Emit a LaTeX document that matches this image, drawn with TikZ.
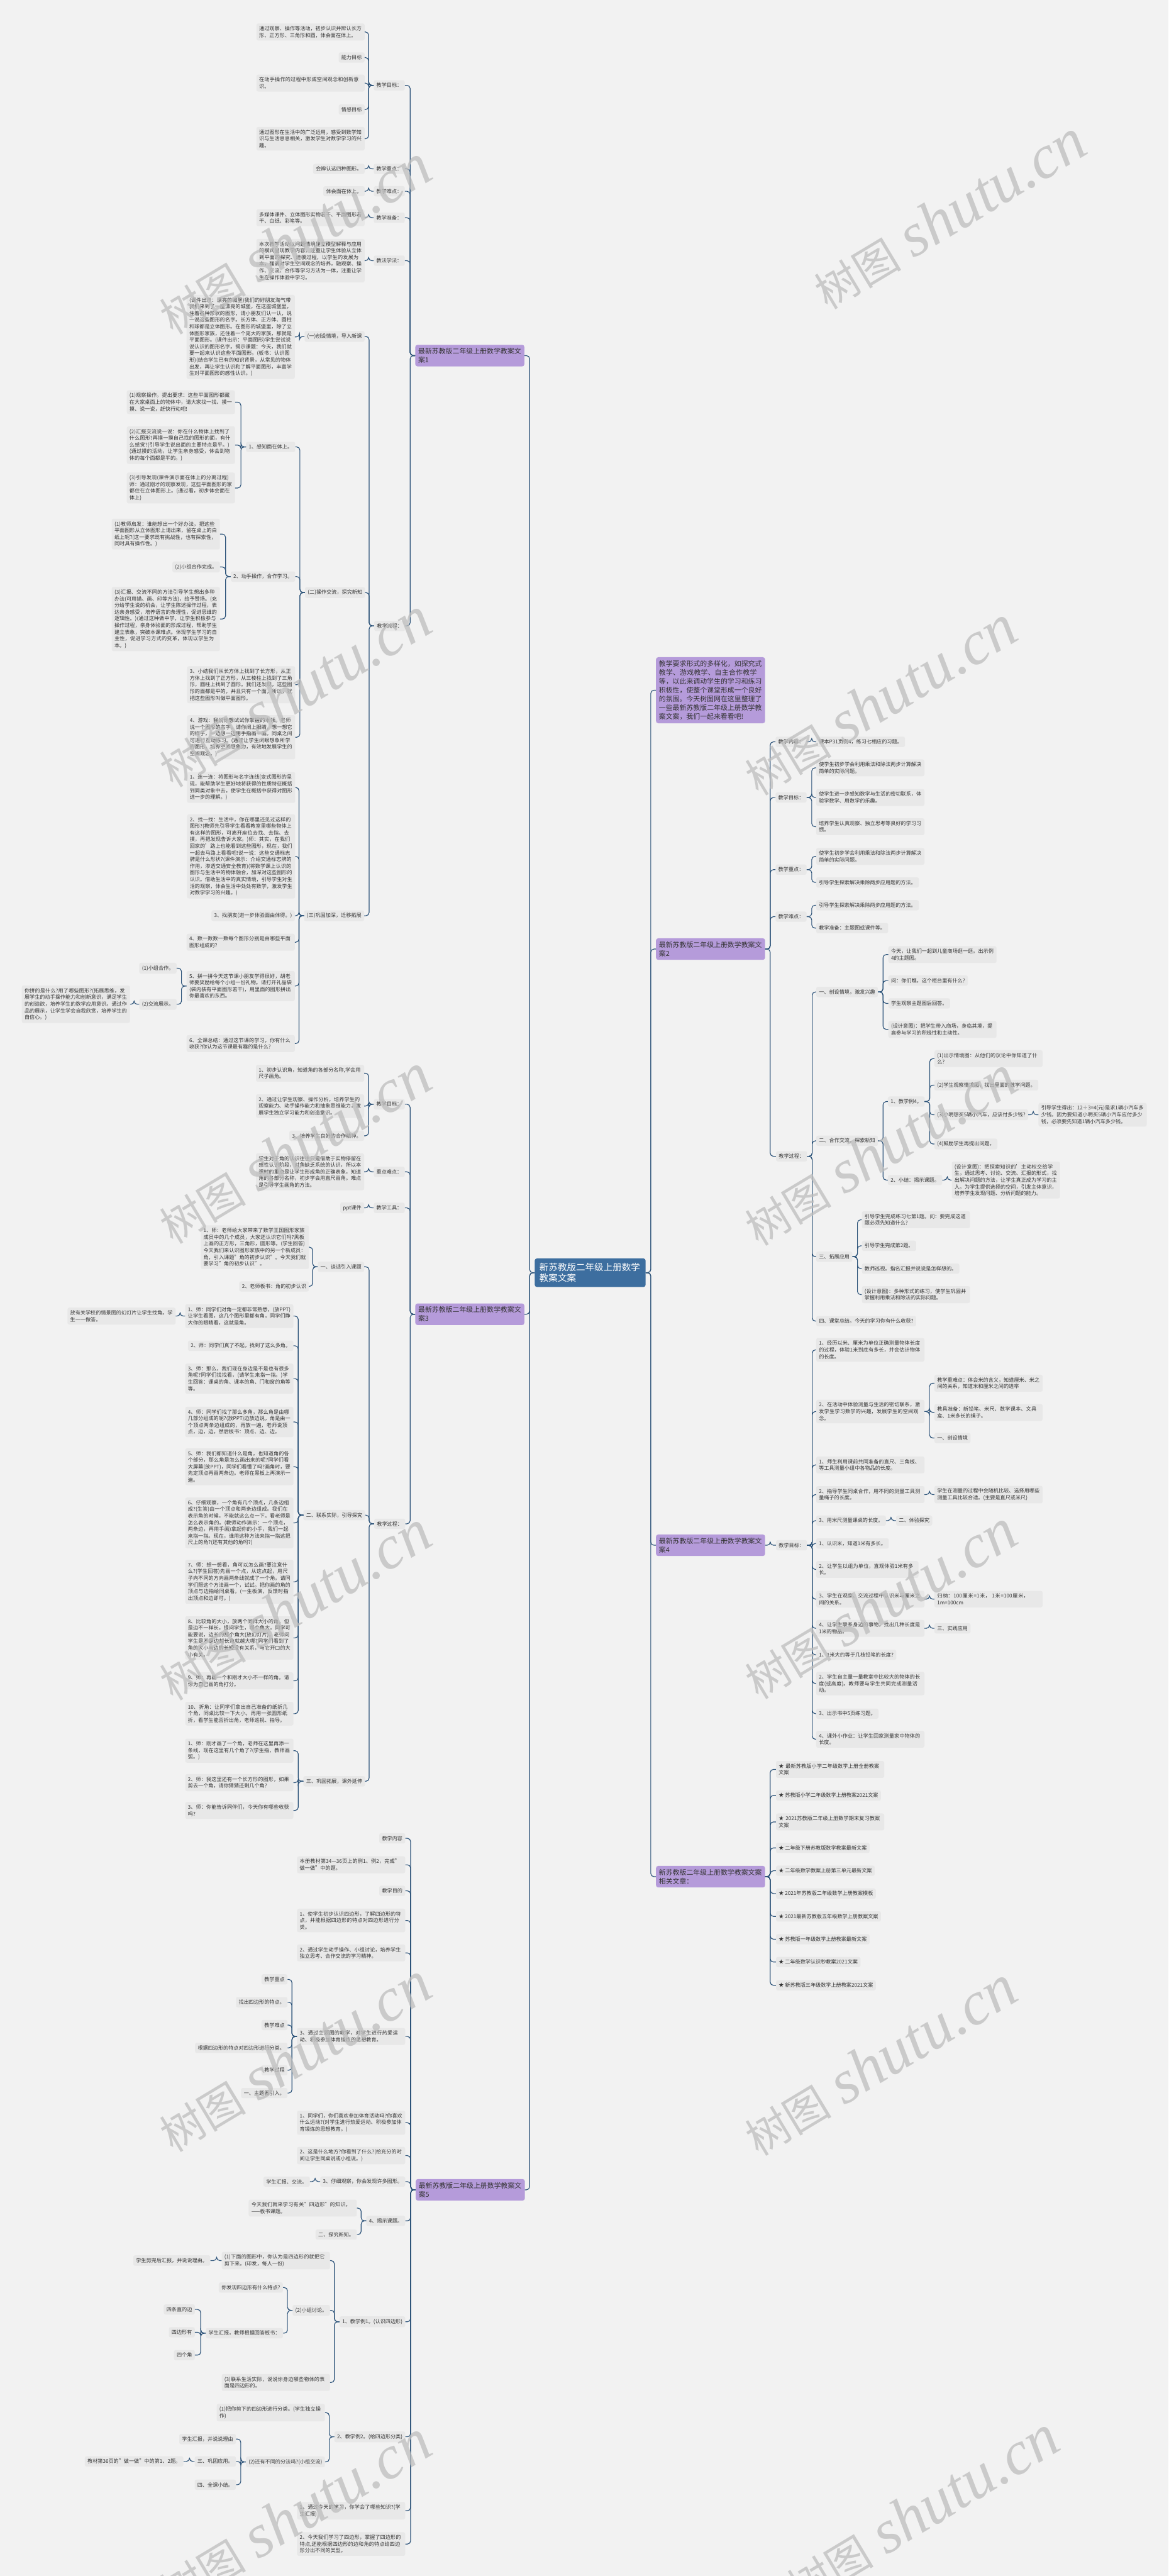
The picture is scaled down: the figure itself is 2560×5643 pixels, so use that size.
\documentclass[tikz,border=0pt]{standalone}
\usepackage{fontspec}
\setmainfont{Noto Sans CJK SC}
\newfontfamily\wmcjk{Noto Sans CJK SC}
\newfontfamily\wmlat{Liberation Serif}
\XeTeXlinebreaklocale "zh"
\XeTeXlinebreakskip=0pt plus 1pt
\definecolor{bgc}{HTML}{F2F2F2}
\definecolor{leafc}{HTML}{E8E8E8}
\definecolor{secc}{HTML}{B59BDA}
\definecolor{rootc}{HTML}{3D6E9F}
\definecolor{conc}{HTML}{2C5379}
\definecolor{txtc}{HTML}{333333}
\definecolor{wmc}{HTML}{BDBDBD}
\newcommand\fsleaf{\fontsize{11.2}{14.6}\selectfont}
\newcommand\fssec{\fontsize{15}{19.4}\selectfont}
\newcommand\fsroot{\fontsize{20}{24}\selectfont}
\newcommand\cL[2]{\draw[con] (#1.west) -- ++(-11,0) |- (#2.east);}
\newcommand\cR[2]{\draw[con] (#1.east) -- ++(11,0) |- (#2.west);}
\newcommand\cLs[2]{\foreach \cc in {#2}{\cL{#1}{\cc}}}
\newcommand\cRs[2]{\foreach \cc in {#2}{\cR{#1}{\cc}}}
\newcommand\wmark[2]{\node[rotate=31,text=wmc,opacity=0.75,inner sep=0pt] at (#1,#2) {{\wmcjk\fontsize{95}{95}\selectfont 树图}\hspace{28pt}{\wmlat\itshape\fontsize{135}{135}\selectfont shutu.cn}};}
\begin{document}
\begin{tikzpicture}[x=1pt,y=-1pt,
 leaf/.style={fill=leafc, rounded corners=4pt, inner xsep=6pt, inner ysep=6pt, font=\fsleaf, text=txtc, align=left},
 wide/.style={text width=225pt},
 lft/.style={leaf, anchor=east},
 rgt/.style={leaf, anchor=west},
 sec/.style={fill=secc, rounded corners=5pt, inner xsep=6.5pt, inner ysep=7pt, font=\fssec, text=txtc, align=left, text width=226pt},
 rootn/.style={fill=rootc, rounded corners=5pt, inner xsep=10.5pt, inner ysep=10pt, font=\fsroot, text=white, align=left, text width=222pt},
 con/.style={draw=conc, line width=1.6pt, rounded corners=7pt}]
\fill[bgc] (0,0) rectangle (2560,5643);
\useasboundingbox (0,0) rectangle (2560,5643);

% ---------- root and main branches
\node[rootn] (root) at (1293,2788) {新苏教版二年级上册数学教案文案};
\node[sec,anchor=east] (s1) at (1149,779) {最新苏教版二年级上册数学教案文案1};
\node[sec,anchor=east] (s3) at (1149,2879) {最新苏教版二年级上册数学教案文案3};
\node[sec,anchor=east] (s5) at (1150,4797) {最新苏教版二年级上册数学教案文案5};
\node[sec,anchor=west] (intro) at (1437,1512) {教学要求形式的多样化，如探究式教学、游戏教学、自主合作教学等，以此来调动学生的学习和练习积极性，使整个课堂形成一个良好的氛围。今天树图网在这里整理了一些最新苏教版二年级上册数学教案文案，我们一起来看看吧!};
\node[sec,anchor=west] (s2) at (1437,2079) {最新苏教版二年级上册数学教案文案2};
\node[sec,anchor=west] (s4) at (1437,3385) {最新苏教版二年级上册数学教案文案4};
\node[sec,anchor=west] (rel) at (1437,4111) {新苏教版二年级上册数学教案文案相关文章：};
\cLs{root}{s1,s3,s5}
\cRs{root}{intro,s2,s4,rel}

% ---------- section 1
\node[lft] (a1) at (887,187) {教学目标：};
\node[lft] (a2) at (887,370) {教学重点：};
\node[lft] (a3) at (887,419) {教学难点：};
\node[lft] (a4) at (887,477) {教学准备：};
\node[lft] (a5) at (887,571) {教法学法：};
\node[lft] (a6) at (888,1371) {教学流程：};
\cLs{s1}{a1,a2,a3,a4,a5,a6}
\node[lft,wide] (a1a) at (799,70) {通过观察、操作等活动，初步认识并辨认长方形、正方形、三角形和圆，体会面在体上。};
\node[lft] (a1b) at (799,126) {能力目标};
\node[lft,wide] (a1c) at (799,182) {在动手操作的过程中形成空间观念和创新意识。};
\node[lft] (a1d) at (799,240) {情感目标};
\node[lft,wide] (a1e) at (799,304) {通过图形在生活中的广泛运用，感受到数学知识与生活息息相关，激发学生对数学学习的兴趣。};
\cLs{a1}{a1a,a1b,a1c,a1d,a1e}
\node[lft] (a2a) at (799,370) {会辨认这四种图形。};
\node[lft] (a3a) at (799,419) {体会面在体上。};
\node[lft,wide] (a4a) at (799,477) {多媒体课件、立体图形实物若干、平面图形若干、白纸、彩笔等。};
\node[lft,wide] (a5a) at (799,571) {本次教学活动以问题情境建立模型解释与应用的模式呈现教学内容，注重让学生体验从立体到平面的探究、建模过程，以学生的发展为本，强调对学生空间观念的培养，融观察、操作、交流、合作等学习方法为一体，注重让学生在操作体验中学习。};
\cL{a2}{a2a} \cL{a3}{a3a} \cL{a4}{a4a} \cL{a5}{a5a}
\node[lft] (b1) at (799,737) {(一)创设情境，导入新课};
\node[lft] (b2) at (800,1298) {(二)操作交流，探究新知};
\node[lft] (b3) at (798,2006) {(三)巩固加深，迁移拓展};
\cLs{a6}{b1,b2,b3}
\node[lft,wide] (b1a) at (646,738) {(课件出示：漂亮的城堡)我们的好朋友淘气带我们来到了一座漂亮的城堡，在这座城堡里，住着各种形状的图形，请小朋友们认一认，说一说这些图形的名字。长方体、正方体、圆柱和球都是立体图形。在图形的城堡里，除了立体图形家族，还住着一个庞大的家族，那就是平面图形。(课件出示：平面图形)学生尝试说说认识的图形名字。揭示课题：今天，我们就要一起来认识这些平面图形。(板书：认识图形)(结合学生已有的知识背景，从常见的物体出发，再让学生认识和了解平面图形，丰富学生对平面图形的感性认识。)};
\cL{b1}{b1a}
\node[lft] (c1) at (647,979) {1、感知面在体上。};
\node[lft] (c2) at (647,1263) {2、动手操作，合作学习。};
\node[lft,wide] (c3) at (647,1500) {3、小结我们从长方体上找到了长方形，从正方体上找到了正方形，从三棱柱上找到了三角形，圆柱上找到了圆形。我们还发现，这些图形的面都是平的，并且只有一个面，所以，就把这些图形叫做平面图形。};
\node[lft,wide] (c4) at (647,1615) {4、游戏：我说你想试试你掌握的本领。老师说一个图形的名字，请你闭上眼睛，想一想它的样子，一边想一边用手指画一画。同桌之间可进行互动练习。(通过让学生闭眼想象所学的图形，培养空间想象力，有效地发展学生的空间观念。)};
\cLs{b2}{c1,c2,c3,c4}
\node[lft,wide] (c1a) at (515,881) {(1)观察操作。提出要求：这些平面图形都藏在大家桌面上的物体中，请大家找一找、摸一摸、说一说，赶快行动吧!};
\node[lft,wide] (c1b) at (515,975) {(2)汇报交流说一说：你在什么物体上找到了什么图形?再摸一摸自己找的图形的面，有什么感觉?(引导学生说出面的主要特点是平。)(通过摸的活动，让学生亲身感受，体会到物体的每个面都是平的。)};
\node[lft,wide] (c1c) at (515,1069) {(3)引导发现(课件演示面在体上的分离过程)师：通过刚才的观察发现，这些平面图形的家都住在立体图形上。(通过看，初步体会面在体上)};
\cLs{c1}{c1a,c1b,c1c}
\node[lft,wide] (c2a) at (482,1170) {(1)教师启发：谁能想出一个好办法，把这些平面图形从立体图形上请出来，留在桌上的白纸上呢?(这一要求既有挑战性，也有探索性，同时具有操作性。)};
\node[lft] (c2b) at (482,1242) {(2)小组合作完成。};
\node[lft,wide] (c2c) at (482,1356) {(3)汇报、交流不同的方法引导学生想出多种办法(可用描、画、印等方法)，给予赞扬。(充分给学生说的机会，让学生陈述操作过程，表达亲身感受，培养语言的条理性，促进思维的逻辑性。)(通过这种做中学，让学生积极参与操作过程，亲身体验面的形成过程，帮助学生建立表象，突破本课难点。体现学生学习的自主性，促进学习方式的变革，体现以学生为本。)};
\cLs{c2}{c2a,c2b,c2c}
\node[lft,wide] (d1) at (647,1725) {1、连一连：将图形与名字连线(变式图形的呈现，能帮助学生更好地将获得的性质特征概括到同类对象中去，使学生在概括中获得对图形进一步的理解。)};
\node[lft,wide] (d2) at (647,1876) {2、找一找：生活中，你在哪里还见过这样的图形?(教师先引导学生看看教室里哪些物体上有这样的图形，可离开座位去找、去指、去摸，再把发现告诉大家。)师：其实，在我们回家的'路上也能看到这些图形，现在，我们一起去马路上看看吧!说一说：这些交通标志牌是什么形状?(课件演示：介绍交通标志牌的作用，渗透交通安全教育)(将数学课上认识的图形与生活中的物体融合，加深对这些图形的认识。借助生活中的真实情境，引导学生对生活的观察，体会生活中处处有数学，激发学生对数学学习的兴趣。)};
\node[lft] (d3) at (646,2006) {3、找朋友(进一步体验面由体得。)};
\node[lft,wide] (d4) at (646,2064) {4、数一数数一数每个图形分别是由哪些平面图形组成的?};
\node[lft,wide] (d5) at (646,2160) {5、拼一拼今天这节课小朋友学得很好，胡老师要奖励给每个小组一份礼物。请打开礼品袋(袋内装有平面图形若干)，用里面的图形拼出你最喜欢的东西。};
\node[lft,wide] (d6) at (646,2286) {6、全课总结：通过这节课的学习，你有什么收获?你认为这节课最有趣的是什么?};
\cLs{b3}{d1,d2,d3,d4,d5,d6}
\node[lft] (d5a) at (387,2121) {(1)小组合作。};
\node[lft] (d5b) at (387,2200) {(2)交流展示。};
\cLs{d5}{d5a,d5b}
\node[lft,wide] (d5c) at (285,2200) {你拼的是什么?用了哪些图形?(拓展思维，发展学生的动手操作能力和创新意识，满足学生的创造欲，培养学生的数学应用意识。通过作品的展示，让学生学会自我欣赏，培养学生的自信心。)};
\cL{d5b}{d5c}

% ---------- section 3
\node[lft] (e1) at (887,2419) {教学目标：};
\node[lft] (e2) at (887,2567) {重点难点：};
\node[lft] (e3) at (887,2646) {教学工具：};
\node[lft] (e4) at (888,3338) {教学过程：};
\cLs{s3}{e1,e2,e3,e4}
\node[lft,wide] (e1a) at (798,2351) {1、初步认识角，知道角的各部分名称,学会用尺子画角。};
\node[lft,wide] (e1b) at (798,2423) {2、通过让学生观察、操作分析，培养学生的观察能力、动手操作能力和抽象思维能力，发展学生独立学习能力和创造意识。};
\node[lft] (e1c) at (798,2488) {3、培养学生良好的合作精神。};
\cLs{e1}{e1a,e1b,e1c}
\node[lft,wide] (e2a) at (798,2567) {学生对于角的认识往往只是借助于实物停留在感性认识阶段，对角缺乏系统的认识，所以本课时的重点是让学生形成角的正确表象，知道角的各部分名称，初步学会用直尺画角。难点是引导学生画角的方法。};
\node[lft] (e3a) at (798,2646) {ppt课件};
\cL{e2}{e2a} \cL{e3}{e3a}
\node[lft] (f1) at (798,2775) {一、谈话引入课题};
\node[lft] (f2) at (800,3319) {二、联系实际，引导探究};
\node[lft] (f3) at (800,3902) {三、巩固拓展，课外延伸};
\cLs{e4}{f1,f2,f3}
\node[lft,wide] (f1a) at (677,2732) {1、师：老师给大家带来了数学王国图形家族成员中的几个成员，大家还认识它们吗?黑板上画的正方形，三角形，圆形等。(学生回答)今天我们来认识图形家族中的另一个新成员：角，引入课题"角的初步认识"。今天我们就要学习"角的初步认识"。};
\node[lft] (f1b) at (677,2818) {2、老师板书：角的初步认识};
\cLs{f1}{f1a,f1b}
\node[lft,wide] (g1) at (643,2883) {1、师：同学们对角一定都非常熟悉，(放PPT)让学生看图，这几个图形里都有角，同学们睁大你的眼睛看，这就是角。};
\node[lft,wide] (g1a) at (385,2883) {放有关学校的情景图的幻灯片让学生找角。学生一一做答。};
\cL{g1}{g1a}
\node[lft] (g2) at (643,2948) {2、师：同学们真了不起，找到了这么多角。};
\node[lft,wide] (g3) at (643,3020) {3、师：那么，我们现在身边是不是也有很多角呢?同学们找找看，(请学生来指一指。)学生回答：课桌的角、课本的角、门和窗的角等等。};
\node[lft,wide] (g4) at (643,3115) {4、师：同学们找了那么多角，那么角是由哪几部分组成的呢?(放PPT)边放边说，角是由一个顶点两条边组成的，再放一遍，老师说顶点，边，边。然后板书：顶点、边、边。};
\node[lft,wide] (g5) at (643,3213) {5、师：我们都知道什么是角，也知道角的各个部分，那么角是怎么画出来的呢?同学们看大屏幕(放PPT)，同学们看懂了吗?画角时，要先定顶点再画两条边。老师在黑板上再演示一遍。};
\node[lft,wide] (g6) at (643,3336) {6、仔细观察，一个角有几个顶点，几条边组成?(生答)由一个顶点和两条边组成。我们在表示角的时候，不能就这么点一下。看老师是怎么表示角的。(教师动作演示：一个顶点，两条边，再用手画)拿起你的小手，我们一起来指一指。现在，谁用这种方法来指一指这把尺上的角?(还有其他的角吗?)};
\node[lft,wide] (g7) at (643,3465) {7、师：想一想看，角可以怎么画?要注意什么?(学生回答)先画一个点，从这点起，用尺子向不同的方向画两条线就成了一个角。请同学们照这个方法画一个，试试。把你画的角的顶点与边指给同桌看。(一生板演，反馈时指出顶点和边即可。)};
\node[lft,wide] (g8) at (643,3588) {8、比较角的大小，放两个同样大小的角，但是边不一样长，提问学生，哪个角大，同学可能要说，边长的那个角大(放幻灯片)，老师问学生是不是边越长角就越大哪?同学们看到了角的大小与边的长短没有关系，与它开口的大小有关。};
\node[lft,wide] (g9) at (643,3682) {9、师：再画一个和刚才大小不一样的角。请你为自己画的角打分。};
\node[lft,wide] (g10) at (643,3754) {10、折角：让同学们拿出自己准备的纸折几个角，同桌比较一下大小。再用一张圆形纸折，看学生能否折出角，老师巡视、指导。};
\cLs{f2}{g1,g2,g3,g4,g5,g6,g7,g8,g9,g10}
\node[lft,wide] (h1) at (643,3835) {1、师：刚才画了一个角，老师在这里再添一条线，现在这里有几个角了?(学生指，教师画弧。)};
\node[lft,wide] (h2) at (643,3905) {2、师：我这里还有一个长方形的图形，如果剪去一个角，请你猜猜还剩几个角?};
\node[lft,wide] (h3) at (643,3966) {3、师：你能告诉同伴们，今天你有哪些收获吗?};
\cLs{f3}{h1,h2,h3}

% ---------- section 5
\node[lft] (k1) at (888,4027) {教学内容};
\node[lft,wide] (k2) at (888,4085) {本册教材第34—36页上的例1、例2，完成"做一做"中的题。};
\node[lft] (k3) at (888,4142) {教学目的};
\node[lft,wide] (k4) at (888,4207) {1、使学生初步认识四边形，了解四边形的特点，并能根据四边形的特点对四边形进行分类。};
\node[lft,wide] (k5) at (888,4278) {2、通过学生动手操作、小组讨论，培养学生独立思考、合作交流的学习精神。};
\node[lft,wide] (k6) at (888,4461) {3、通过主题图的教学，对学生进行热爱运动、积极参加体育锻炼的思想教育。};
\node[lft,wide] (k7) at (888,4650) {1、同学们，你们喜欢参加体育活动吗?你喜欢什么运动?(对学生进行热爱运动、积极参加体育锻炼的思想教育。)};
\node[lft,wide] (k8) at (888,4722) {2、这是什么地方?你看到了什么?(给充分的时间让学生同桌说或小组说。)};
\node[lft] (k9) at (888,4779) {3、仔细观察，你会发现许多图形。};
\node[lft] (k10) at (888,4865) {4、揭示课题。};
\node[lft] (k11) at (888,5086) {1、教学例1。(认识四边形)};
\node[lft] (k12) at (888,5338) {2、教学例2。(给四边形分类)};
\node[lft,wide] (k13) at (888,5500) {1、通过今天的学习，你学会了哪些知识?(学生汇报)};
\node[lft,wide] (k14) at (888,5573) {2、今天我们学习了四边形，掌握了四边形的特点,还能根据四边形的边和角的特点给四边形分出不同的类型。};
\cLs{s5}{k1,k2,k3,k4,k5,k6,k7,k8,k9,k10,k11,k12,k13,k14}
\node[lft] (k6a) at (630,4336) {教学重点};
\node[lft] (k6b) at (630,4386) {找出四边形的特点。};
\node[lft] (k6c) at (630,4436) {教学难点};
\node[lft] (k6d) at (630,4486) {根据四边形的特点对四边形进行分类。};
\node[lft] (k6e) at (630,4535) {教学过程};
\node[lft] (k6f) at (630,4585) {一、主题图引入。};
\cLs{k6}{k6a,k6b,k6c,k6d,k6e,k6f}
\node[lft] (k9a) at (679,4779) {学生汇报、交流。};
\cL{k9}{k9a}
\node[lft,wide] (k10a) at (782,4837) {今天我们就来学习有关"四边形"的知识。——板书课题。};
\node[lft] (k10b) at (782,4895) {二、探究新知。};
\cLs{k10}{k10a,k10b}
\node[lft,wide] (m1) at (723,4952) {(1)下面的图形中，你认为是四边形的就把它剪下来。(印发，每人一份)};
\node[lft] (m2) at (723,5061) {(2)小组讨论。};
\node[lft,wide] (m3) at (723,5219) {(3)联系生活实际，说说你身边哪些物体的表面是四边形的。};
\cLs{k11}{m1,m2,m3}
\node[lft] (m1a) at (461,4952) {学生剪完后汇报，并说说理由。};
\cL{m1}{m1a}
\node[lft] (m2a) at (620,5011) {你发现四边形有什么特点?};
\node[lft] (m2b) at (620,5111) {学生汇报，教师根据回答板书：};
\cLs{m2}{m2a,m2b}
\node[lft] (m2c) at (427,5059) {四条直的边};
\node[lft] (m2d) at (427,5109) {四边形有};
\node[lft] (m2e) at (427,5159) {四个角};
\cLs{m2b}{m2c,m2d,m2e}
\node[lft,wide] (n1) at (712,5285) {(1)把你剪下的四边形进行分类。(学生独立操作)};
\node[lft] (n2) at (712,5393) {(2)还有不同的分法吗?(小组交流)};
\cLs{k12}{n1,n2}
\node[lft] (n2a) at (517,5343) {学生汇报，并说说理由};
\node[lft] (n2b) at (517,5392) {三、巩固应用。};
\node[lft] (n2d) at (517,5443) {四、全课小结。};
\cLs{n2}{n2a,n2b,n2d}
\node[lft] (n2c) at (402,5392) {教材第36页的"做一做"中的第1、2题。};
\cL{n2b}{n2c}

% ---------- section 2
\node[rgt] (p1) at (1699,1625) {教学内容：};
\node[rgt] (p2) at (1699,1747) {教学目标：};
\node[rgt] (p3) at (1699,1905) {教学重点：};
\node[rgt] (p4) at (1699,2008) {教学难点：};
\node[rgt] (p5) at (1700,2533) {教学过程：};
\cRs{s2}{p1,p2,p3,p4,p5}
\node[rgt] (p1a) at (1788,1625) {课本P31页例4，练习七相应的习题。};
\cR{p1}{p1a}
\node[rgt,wide] (p2a) at (1788,1682) {使学生初步学会利用乘法和除法两步计算解决简单的实际问题。};
\node[rgt,wide] (p2b) at (1788,1747) {使学生进一步感知数学与生活的密切联系，体验学数学、用数学的乐趣。};
\node[rgt,wide] (p2c) at (1788,1811) {培养学生认真观察、独立思考等良好的学习习惯。};
\cRs{p2}{p2a,p2b,p2c}
\node[rgt,wide] (p3a) at (1788,1876) {使学生初步学会利用乘法和除法两步计算解决简单的实际问题。};
\node[rgt] (p3b) at (1788,1933) {引导学生探索解决乘除两步应用题的方法。};
\cRs{p3}{p3a,p3b}
\node[rgt] (p4a) at (1788,1983) {引导学生探索解决乘除两步应用题的方法。};
\node[rgt] (p4b) at (1788,2033) {教学准备：主题图或课件等。};
\cRs{p4}{p4a,p4b}
\node[rgt] (q1) at (1788,2173) {一、创设情境，激发兴趣};
\node[rgt] (q2) at (1788,2499) {二、合作交流，探索新知};
\node[rgt] (q5) at (1788,2753) {三、拓展应用};
\node[rgt] (q6) at (1788,2894) {四、课堂总结。今天的学习你有什么收获?};
\cRs{p5}{q1,q2,q5,q6}
\node[rgt,wide] (q1a) at (1946,2091) {今天，让我们一起到儿童商场逛一逛。出示例4的主题图。};
\node[rgt] (q1b) at (1946,2148) {问：你们瞧，这个柜台里有什么?};
\node[rgt] (q1c) at (1946,2198) {学生观察主题图后回答。};
\node[rgt,wide] (q1d) at (1946,2255) {(设计意图)：把学生带入商场，身临其境，提高参与学习的积极性和主动性。};
\cRs{q1}{q1a,q1b,q1c,q1d}
\node[rgt] (q3) at (1945,2413) {1、教学例4。};
\node[rgt] (q4) at (1945,2585) {2、小结：揭示课题。};
\cRs{q2}{q3,q4}
\node[rgt,wide] (q3a) at (2047,2319) {(1)出示情境图：从他们的议论中你知道了什么?};
\node[rgt] (q3b) at (2047,2377) {(2)学生观察情境图，找出里面的数学问题。};
\node[rgt] (q3c) at (2047,2442) {(3)小明想买5辆小汽车，应该付多少钱?};
\node[rgt] (q3d) at (2047,2506) {(4)鼓励学生再提出问题。};
\cRs{q3}{q3a,q3b,q3c,q3d}
\node[rgt,wide] (q3e) at (2275,2442) {引导学生得出：12÷3=4(元)是求1辆小汽车多少钱。因为要知道小明买5辆小汽车应付多少钱，必须要先知道1辆小汽车多少钱。};
\cR{q3c}{q3e}
\node[rgt,wide] (q4a) at (2085,2585) {(设计意图)：把探索知识的'主动权交给学生，通过思考、讨论、交流、汇报的形式，找出解决问题的方法，让学生真正成为学习的主人。为学生提供选择的空间，引发主体意识，培养学生发现问题、分析问题的能力。};
\cR{q4}{q4a}
\node[rgt,wide] (q5a) at (1888,2672) {引导学生完成练习七第1题。问：要完成这道题必须先知道什么?};
\node[rgt] (q5b) at (1888,2729) {引导学生完成第2题。};
\node[rgt] (q5c) at (1888,2779) {教师巡视。指名汇报并说说是怎样想的。};
\node[rgt,wide] (q5d) at (1888,2836) {(设计意图)：多种形式的练习，使学生巩固并掌握利用乘法和除法的实际问题。};
\cRs{q5}{q5a,q5b,q5c,q5d}

% ---------- section 4
\node[rgt] (t0) at (1700,3385) {教学目标：};
\cR{s4}{t0}
\node[rgt,wide] (t1) at (1788,2957) {1、经历以米、厘米为单位正确测量物体长度的过程，体验1米到底有多长，并会估计物体的长度。};
\node[rgt,wide] (t2) at (1788,3092) {2、在活动中体验测量与生活的密切联系，激发学生学习数学的兴趣，发展学生的空间观念。};
\node[rgt,wide] (t3) at (1788,3209) {1、师生利用课前共同准备的直尺、三角板、等工具测量小组中各物品的长度。};
\node[rgt,wide] (t4) at (1788,3274) {2、指导学生同桌合作，用不同的测量工具测量绳子的长度。};
\node[rgt] (t5) at (1788,3331) {3、用米尺测量课桌的长度。};
\node[rgt] (t6) at (1788,3381) {1、认识米，知道1米有多长。};
\node[rgt,text width=212pt] (t7) at (1788,3438) {2、让学生以组为单位，直观体验1米有多长。};
\node[rgt,wide] (t8) at (1788,3503) {3、学生在观察、交流过程中认识米与厘米之间的关系。};
\node[rgt,wide] (t9) at (1788,3567) {4、让学生联系身边的事物，找出几种长度是1米的物品。};
\node[rgt] (t10) at (1788,3625) {1、1米大约等于几枝铅笔的长度?};
\node[rgt,wide] (t11) at (1788,3688) {2、学生自主量一量教室中比较大的物体的长度(或高度)。教师要与学生共同完成测量活动。};
\node[rgt] (t12) at (1788,3754) {3、出示书中5页练习题。};
\node[rgt,wide] (t13) at (1788,3810) {4、课外小作业：让学生回家测量家中物体的长度。};
\cRs{t0}{t1,t2,t3,t4,t5,t6,t7,t8,t9,t10,t11,t12,t13}
\node[rgt,wide] (t2a) at (2047,3030) {教学重难点：体会米的含义，知道厘米、米之间的关系，知道米和厘米之间的进率};
\node[rgt,wide] (t2b) at (2047,3094) {教具准备：新铅笔、米尺、数学课本、文具盒、1米多长的绳子。};
\node[rgt] (t2c) at (2047,3150) {一、创设情境};
\cRs{t2}{t2a,t2b,t2c}
\node[rgt,wide] (t4a) at (2047,3274) {学生在测量的过程中会随机比较、选择用哪些测量工具比较合适。(主要是直尺或米尺)};
\cR{t4}{t4a}
\node[rgt] (t5a) at (1963,3331) {二、体验探究};
\cR{t5}{t5a}
\node[rgt,wide] (t8a) at (2047,3503) {归纳：100厘米=1米， 1米=100厘米， 1m=100cm};
\cR{t8}{t8a}
\node[rgt] (t9a) at (2047,3567) {三、实践应用};
\cR{t9}{t9a}

% ---------- related
\node[rgt,wide] (r1) at (1700,3876) {★ 最新苏教版小学二年级数学上册全册教案文案};
\node[rgt] (r2) at (1700,3933) {★ 苏教版小学二年级数学上册教案2021文案};
\node[rgt,wide] (r3) at (1700,3991) {★ 2021苏教版二年级上册数学期末复习教案文案};
\node[rgt] (r4) at (1700,4048) {★ 二年级下册苏教版数学教案最新文案};
\node[rgt] (r5) at (1700,4098) {★ 二年级数学教案上册第三单元最新文案};
\node[rgt] (r6) at (1700,4148) {★ 2021年苏教版二年级数学上册教案模板};
\node[rgt] (r7) at (1700,4198) {★ 2021最新苏教版五年级数学上册教案文案};
\node[rgt] (r8) at (1700,4248) {★ 苏教版一年级数学上册教案最新文案};
\node[rgt] (r9) at (1700,4298) {★ 二年级数学认识秒教案2021文案};
\node[rgt] (r10) at (1700,4349) {★ 新苏教版三年级数学上册教案2021文案};
\cRs{rel}{r1,r2,r3,r4,r5,r6,r7,r8,r9,r10}

% ---------- watermarks
\wmark{645}{525}
\wmark{645}{1517}
\wmark{645}{2517}
\wmark{645}{3517}
\wmark{645}{4507}
\wmark{645}{5510}
\wmark{2080}{470}
\wmark{1928}{1535}
\wmark{1928}{2521}
\wmark{1928}{3514}
\wmark{1928}{4515}
\wmark{2020}{5500}
\end{tikzpicture}
\end{document}
